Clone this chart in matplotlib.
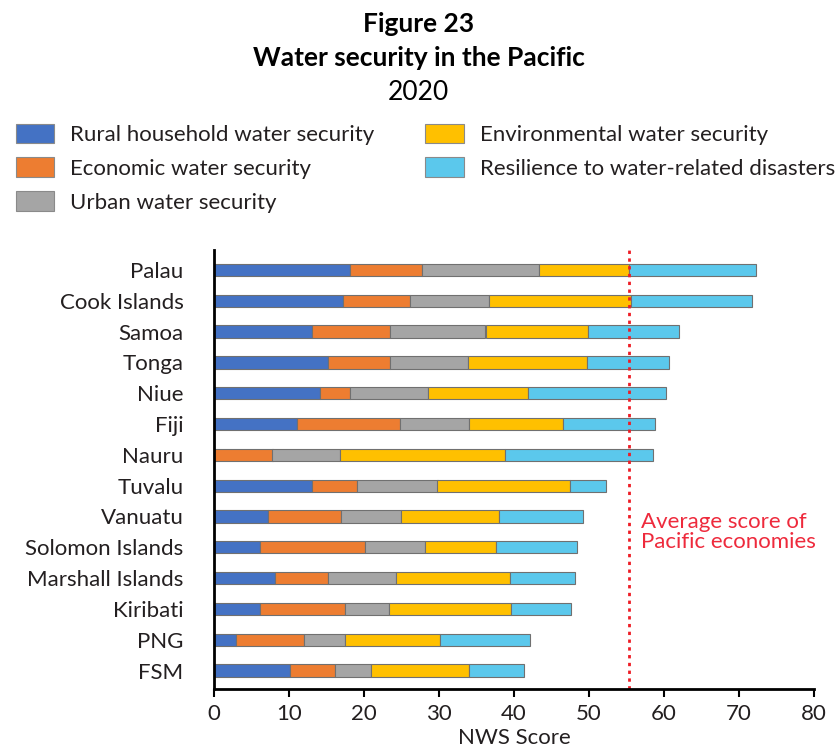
import matplotlib
matplotlib.use("Agg")
import matplotlib.pyplot as plt
import numpy as np
from matplotlib.patches import Patch

# Water security components by Pacific economy.
COUNTRIES = [
    "Palau", "Cook Islands", "Samoa", "Tonga", "Niue", "Fiji", "Nauru",
    "Tuvalu", "Vanuatu", "Solomon Islands", "Marshall Islands", "Kiribati",
    "PNG", "FSM",
]
RURAL = [18.2, 17.2, 13.1, 15.2, 14.1, 11.1, 0.0, 13.1, 7.2, 6.1, 8.1, 6.1, 3.0, 10.1]
ECONOMIC = [9.6, 9.0, 10.4, 8.3, 4.1, 13.7, 7.8, 6.0, 9.8, 14.1, 7.1, 11.4, 9.0, 6.0]
URBAN = [15.5, 10.5, 12.7, 10.4, 10.3, 9.2, 9.0, 10.7, 7.9, 7.9, 9.1, 5.9, 5.5, 4.8]
ENVIRONMENTAL = [12.1, 18.9, 13.7, 15.8, 13.4, 12.5, 22.0, 17.6, 13.1, 9.5, 15.2, 16.2, 12.6, 13.1]
RESILIENCE = [16.9, 16.1, 12.1, 11.0, 18.4, 12.3, 19.8, 4.8, 11.2, 10.8, 8.6, 8.0, 12.0, 7.3]
PACIFIC_AVERAGE = 55.3

SERIES_NAMES = [
    "Rural household water security",
    "Economic water security",
    "Urban water security",
    "Environmental water security",
    "Resilience to water-related disasters",
]
COLORS = ["#4472C4", "#ED7D31", "#A5A5A5", "#FFC000", "#5BC8EC"]
TEXT_COLOR = "#231f20"

plt.rcParams["font.family"] = ["Lato", "DejaVu Sans"]

fig = plt.figure(figsize=(8.37, 7.55), dpi=100)

fig.text(0.5, 0.968, "Figure 23", ha="center", va="center",
         fontsize=19, fontweight="bold")
fig.text(0.5, 0.923, "Water security in the Pacific", ha="center", va="center",
         fontsize=19, fontweight="bold")
fig.text(0.5, 0.877, "2020", ha="center", va="center", fontsize=19)

ax = fig.add_axes([214 / 837, 66 / 755, 600 / 837, 439 / 755])

positions = np.arange(len(COUNTRIES))
left = np.zeros(len(COUNTRIES))
for name, values, color in zip(SERIES_NAMES, [RURAL, ECONOMIC, URBAN, ENVIRONMENTAL, RESILIENCE], COLORS):
    values = np.array(values)
    ax.barh(positions, values, left=left, height=0.4, color=color,
            edgecolor="#707070", linewidth=0.8, label=name)
    left += values

ax.axvline(PACIFIC_AVERAGE, color="#EE1C25", linestyle=(0, (1.2, 1.6)), linewidth=2)
ax.text(57.0, 8.5, "Average score of\nPacific economies", color="#EE2A3C",
        fontsize=16, ha="left", va="center", linespacing=1.0)

ax.set_xlim(0, 80)
ax.set_ylim(13.6, -0.65)
ax.set_xticks(range(0, 81, 10))
ax.set_yticks(positions)
ax.set_yticklabels(COUNTRIES, fontsize=16, color=TEXT_COLOR)
ax.tick_params(axis="x", labelsize=16, labelcolor=TEXT_COLOR, length=6, width=1.5, pad=5)
ax.tick_params(axis="y", length=0, pad=22)
ax.set_xlabel("NWS Score", fontsize=16, color=TEXT_COLOR, labelpad=3)

for side in ["top", "right"]:
    ax.spines[side].set_visible(False)
ax.spines["left"].set_linewidth(2)
ax.spines["bottom"].set_linewidth(2)

handles = [Patch(facecolor=c, edgecolor="#8a8a8a", linewidth=0.8) for c in COLORS]
fig.legend(handles, SERIES_NAMES, loc="upper left", bbox_to_anchor=(0.0, 0.857),
           ncol=2, frameon=False, fontsize=16, handlelength=1.75, handleheight=1.0,
           handletextpad=0.7, labelspacing=0.55, columnspacing=2.3,
           labelcolor=TEXT_COLOR, borderaxespad=0.3)

fig.savefig("out.png", dpi=100)
